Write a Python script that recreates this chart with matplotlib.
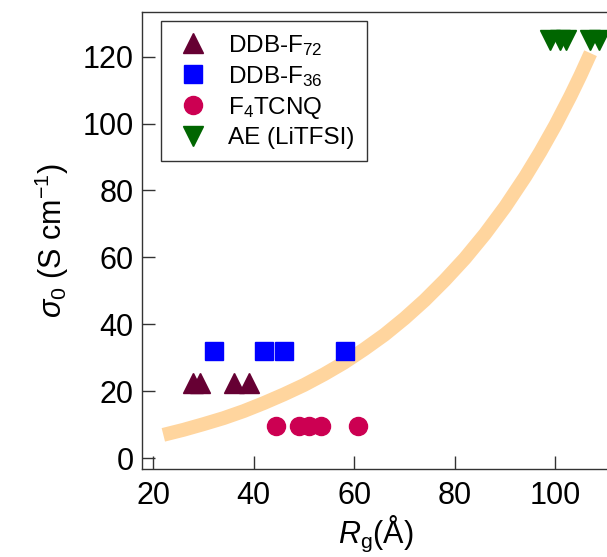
import numpy as np
import matplotlib
matplotlib.use('Agg')
import matplotlib.pyplot as plt

plt.rcParams['font.family'] = ['Liberation Sans', 'DejaVu Sans']
plt.rcParams['mathtext.fontset'] = 'custom'
plt.rcParams['mathtext.rm'] = 'Liberation Sans'
plt.rcParams['mathtext.it'] = 'Liberation Sans:italic'
plt.rcParams['mathtext.bf'] = 'Liberation Sans:bold'

# data
f72_rg = [28.0, 29.2, 36.0, 39.1]
f72_sigma = [22.6, 22.6, 22.6, 22.6]
f36_rg = [32.0, 42.0, 46.0, 58.1]
f36_sigma = [31.9, 31.9, 31.9, 31.9]
f4_rg = [44.4, 48.9, 51.0, 53.3, 60.7]
f4_sigma = [9.7, 9.7, 9.7, 9.7, 9.7]
ae_rg = [98.9, 100.9, 102.1, 106.9, 108.7]
ae_sigma = [124.8, 124.8, 124.8, 124.8, 124.8]
# guide curve, points read along the orange band
fit_rg = [22, 26, 30, 34, 38, 42, 46, 50, 54, 58, 62, 66, 70, 74, 78,
          82, 86, 90, 94, 97, 100, 103, 105, 107]
fit_sigma = [7.0, 8.5, 10.2, 12.0, 14.1, 16.5, 19.1, 21.9, 25.1, 28.6, 32.6,
             36.9, 41.8, 47.2, 53.2, 59.7, 67.0, 75.1, 84.1, 91.5, 99.5,
             108.2, 114.4, 121.0]

fig = plt.figure(figsize=(6.07, 5.57), dpi=100)
ax = fig.add_axes([0.2339, 0.158, 0.7693, 0.821])

ax.plot(fit_rg, fit_sigma, color='#FFD59E', lw=10, solid_capstyle='butt',
        solid_joinstyle='round', zorder=1)

ax.plot(f72_rg, f72_sigma, '^', color='#660033', ms=14, ls='none', label='DDB-F$_{72}$', zorder=3)
ax.plot(f36_rg, f36_sigma, 's', color='#0000FF', ms=12.5, ls='none', label='DDB-F$_{36}$', zorder=3)
ax.plot(f4_rg, f4_sigma, 'o', color='#CC0052', ms=13, ls='none', label='F$_4$TCNQ', zorder=3)
ax.plot(ae_rg, ae_sigma, 'v', color='#006600', ms=14, ls='none', label='AE (LiTFSI)', zorder=3)

ax.set_xlim(17.75, 110.66)
ax.set_ylim(-3.2, 133.4)
ax.set_xticks([20, 40, 60, 80, 100])
ax.set_yticks([0, 20, 40, 60, 80, 100, 120])

for s in ax.spines.values():
    s.set_color('#333333')
    s.set_linewidth(1.0)
ax.spines['right'].set_visible(False)

ax.tick_params(direction='in', length=9.5, width=1.0, color='#333333',
               labelsize=22, pad=6)
ax.tick_params(axis='x', pad=9)

ax.set_xlabel(r'$R_\mathrm{g}$(Å)', fontsize=22, labelpad=2)
ax.set_ylabel(r'$\sigma_0$ (S cm$^{-1}$)', fontsize=22, labelpad=8)

leg = ax.legend(loc='upper left', bbox_to_anchor=(0.0407, 0.980), borderaxespad=0,
                fontsize=17.5, frameon=True, fancybox=False, framealpha=1,
                edgecolor='#333333', borderpad=0.5, handlelength=1.6,
                handletextpad=0.67, labelspacing=0.25, numpoints=1)
leg.get_frame().set_linewidth(1.0)

plt.savefig('out.png', dpi=100)
